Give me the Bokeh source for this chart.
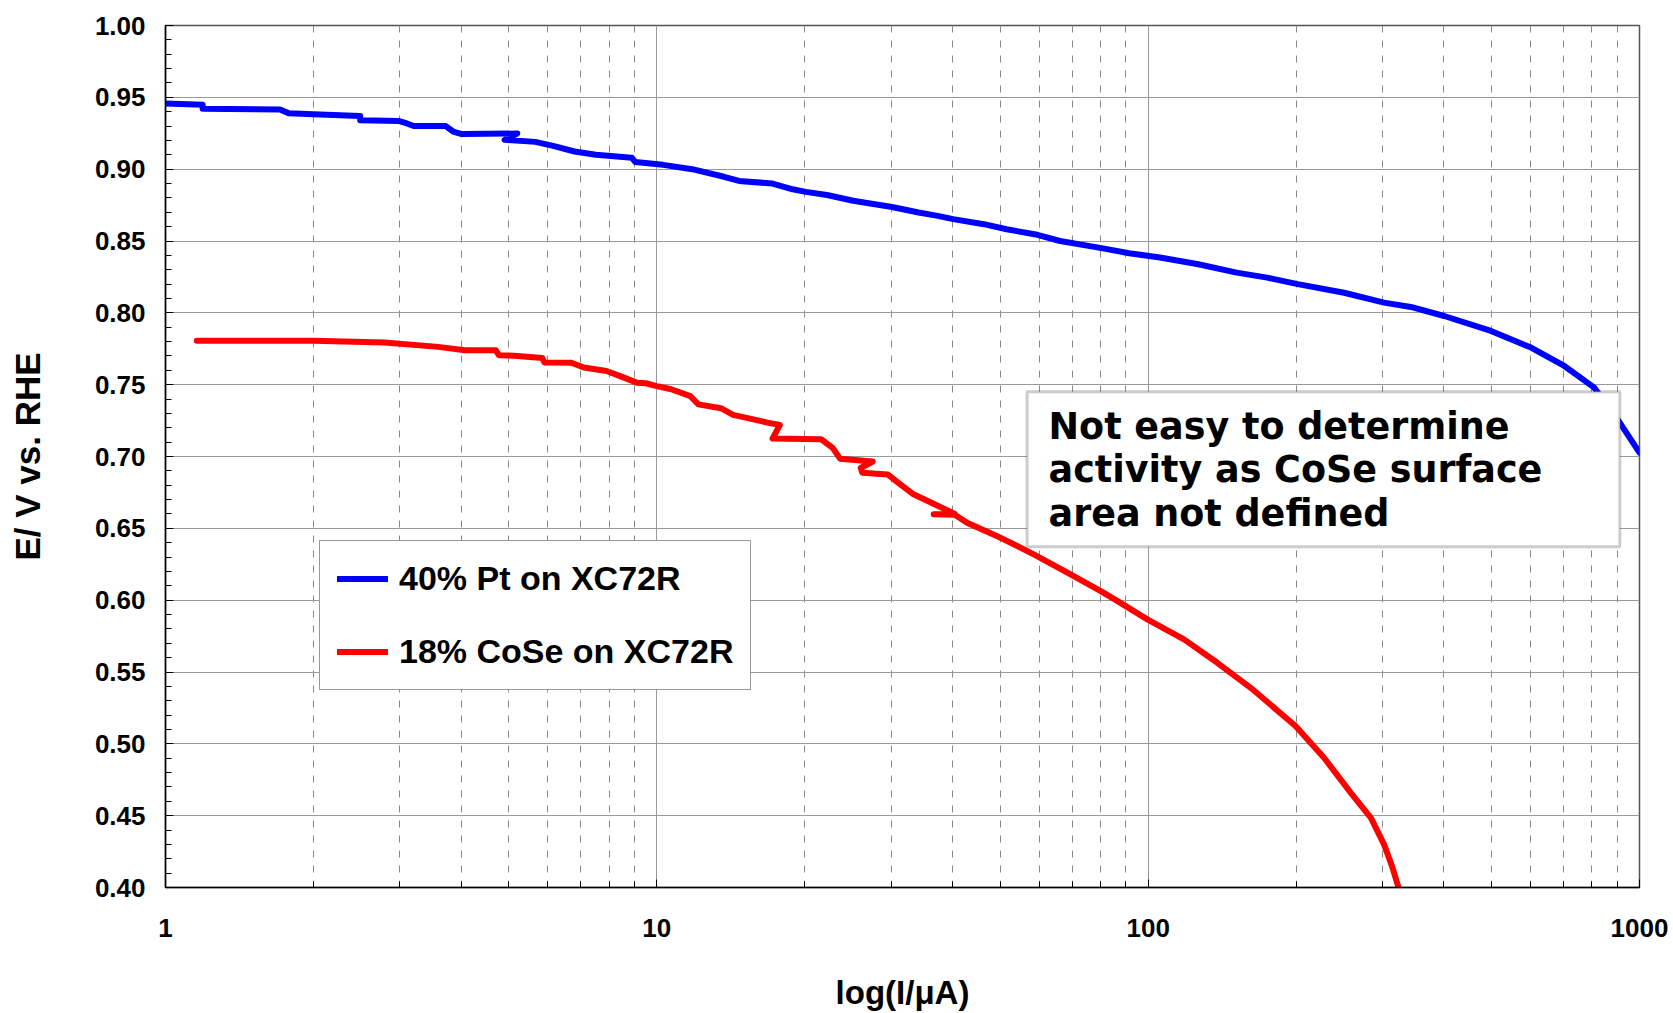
from bokeh.plotting import figure
from bokeh.models import (Range1d, FixedTicker, SingleIntervalTicker, NumeralTickFormatter,
                          Legend, LegendItem, BoxAnnotation, Label)
from bokeh.embed import file_html
from bokeh.resources import INLINE

# ---------------- data ----------------
pt_current = [1.0, 1.19, 1.19, 1.71, 1.78, 2.0, 2.49, 2.49, 2.99, 3.09, 3.2, 3.72, 3.85,
              4.01, 5.2, 4.9, 5.66, 6.15, 6.8, 7.52, 8.89, 9.04, 10.3, 11.8, 13.7, 14.7,
              17.2, 18.9, 20.1, 22.2, 25.1, 30.1, 34.1, 37.3, 40.1, 46.3, 51.5, 59.5, 66.2,
              79.3, 91.5, 105.7, 126.5, 151.4, 174.7, 201.6, 250.5, 302, 342.5, 400.5,
              498.5, 601.5, 703, 809, 902.5, 1000]
pt_potential = [0.9457, 0.9448, 0.9420, 0.9415, 0.9390, 0.9383, 0.9370, 0.9340, 0.9335,
                0.9320, 0.9300, 0.9300, 0.9262, 0.9244, 0.9248, 0.9204, 0.9190, 0.9162,
                0.9123, 0.9100, 0.9080, 0.9050, 0.9030, 0.9000, 0.8947, 0.8918, 0.8900,
                0.8860, 0.8842, 0.8820, 0.8780, 0.8737, 0.8698, 0.8675, 0.8652, 0.8617,
                0.8582, 0.8543, 0.8500, 0.8454, 0.8415, 0.8385, 0.8338, 0.8280, 0.8245,
                0.8200, 0.8140, 0.8071, 0.8041, 0.7978, 0.7874, 0.7758, 0.7630, 0.7479,
                0.7259, 0.7027]

cose_current = [1.158, 2.0, 2.79, 3.59, 4.07, 4.70, 4.77, 5.13, 5.85, 5.9, 6.7, 7.1, 7.9,
                8.5, 9.1, 9.5, 10.0, 10.7, 11.7, 12.15, 13.5, 14.3, 16.8, 17.8, 17.2, 21.6,
                22.8, 23.6, 27.5, 26.0, 26.2, 29.5, 31.3, 33.3, 38.5, 40.4, 36.6, 40.4,
                42.8, 50.1, 58.5, 68.5, 80.1, 86.5, 99.6, 118.3, 138.3, 161.7, 199.7, 228,
                258.5, 284, 302, 314.4, 323.2]
cose_potential = [0.7805, 0.7805, 0.7793, 0.7763, 0.7740, 0.7740, 0.7705, 0.7702, 0.7685,
                  0.7655, 0.7653, 0.7619, 0.7595, 0.7554, 0.7514, 0.7510, 0.7490, 0.7468,
                  0.7420, 0.7363, 0.7336, 0.7290, 0.7236, 0.7219, 0.7125, 0.7120, 0.7060,
                  0.6985, 0.6965, 0.6920, 0.6887, 0.6875, 0.6806, 0.6737, 0.6635, 0.6600,
                  0.6598, 0.6595, 0.6539, 0.6434, 0.6319, 0.6191, 0.6063, 0.5995, 0.5866,
                  0.5727, 0.5564, 0.5390, 0.5123, 0.4903, 0.4659, 0.4485, 0.4300, 0.4137,
                  0.4000]

series_names = ["40% Pt on XC72R", "18% CoSe on XC72R"]
x_major_ticks = [1, 10, 100, 1000]
x_tick_labels = ["1", "10", "100", "1000"]
x_minor_ticks = [2, 3, 4, 5, 6, 7, 8, 9, 20, 30, 40, 50, 60, 70, 80, 90,
                 200, 300, 400, 500, 600, 700, 800, 900]
y_tick_labels = ["0.40", "0.45", "0.50", "0.55", "0.60", "0.65", "0.70", "0.75",
                 "0.80", "0.85", "0.90", "0.95", "1.00"]
note_lines = ["Not easy to determine", "activity as CoSe surface", "area not defined"]
x_title = "log(I/\u03bcA)"
y_title = "E/ V vs. RHE"

# ---------------- figure ----------------
FONT = "Liberation Sans"
p = figure(width=1673, height=1013, x_axis_type="log",
           x_range=Range1d(1, 1000), y_range=Range1d(0.40, 1.00),
           output_backend="svg", toolbar_location=None,
           min_border_left=165, min_border_right=34, min_border_top=25, min_border_bottom=126)
p.background_fill_color = "white"
p.border_fill_color = "white"
p.outline_line_color = "#555555"
p.outline_line_width = 1.5

r_pt = p.line(pt_current, pt_potential, line_color="#0000ff", line_width=6,
              line_cap="round", line_join="round")
r_cose = p.line(cose_current, cose_potential, line_color="#ff0000", line_width=6,
                line_cap="round", line_join="round")

# axes
p.xaxis.ticker = FixedTicker(ticks=x_major_ticks, minor_ticks=x_minor_ticks)
p.xaxis.formatter = NumeralTickFormatter(format="0")
p.xaxis.major_label_overrides = {t: l for t, l in zip(x_major_ticks, x_tick_labels)}
p.yaxis.ticker = SingleIntervalTicker(interval=0.05, num_minor_ticks=5)
p.yaxis.formatter = NumeralTickFormatter(format="0.00")

for ax in (p.xaxis[0], p.yaxis[0]):
    ax.axis_line_color = "black"
    ax.axis_line_width = 1.5
    ax.major_tick_in = 8
    ax.major_tick_out = 0
    ax.minor_tick_in = 6
    ax.minor_tick_out = 0
    ax.major_tick_line_color = "black"
    ax.minor_tick_line_color = "black"
    ax.major_label_text_font = FONT
    ax.major_label_text_font_style = "bold"
    ax.major_label_text_font_size = "26px"
    ax.major_label_text_color = "black"
    ax.axis_label_text_font = FONT
    ax.axis_label_text_font_style = "bold"
    ax.axis_label_text_color = "black"

p.xaxis.axis_label = x_title
p.xaxis.axis_label_text_font_size = "33px"
p.xaxis.major_label_standoff = 31
p.xaxis.axis_label_standoff = 34
p.yaxis.axis_label = y_title
p.yaxis.axis_label_text_font_size = "35px"
p.yaxis.major_label_standoff = 20
p.yaxis.axis_label_standoff = 45

# grids
p.xgrid.grid_line_color = "#999999"
p.xgrid.grid_line_width = 1
p.xgrid.minor_grid_line_color = "#888888"
p.xgrid.minor_grid_line_dash = "7 8"
p.xgrid.minor_grid_line_width = 1
p.ygrid.grid_line_color = "#999999"
p.ygrid.grid_line_width = 1

# legend
legend = Legend(items=[LegendItem(label=series_names[0], renderers=[r_pt]),
                       LegendItem(label=series_names[1], renderers=[r_cose])],
                location=(154, 197), margin=0, padding=17, spacing=32,
                glyph_width=51, glyph_height=41, label_height=41, label_standoff=11,
                label_text_font=FONT, label_text_font_style="bold",
                label_text_font_size="34px", label_text_color="black",
                border_line_color="#333333", border_line_width=1.5,
                background_fill_color="white", background_fill_alpha=1.0)
p.add_layout(legend)

# note box
note_box = BoxAnnotation(left=56.7, right=912, top=0.7451, bottom=0.6372,
                         fill_color="white", fill_alpha=1.0,
                         line_color="#555555", line_width=3)
p.add_layout(note_box)
for line_text, yb in zip(note_lines, [0.7210, 0.6908, 0.6601]):
    p.add_layout(Label(x=62.7, y=yb, text=line_text, text_font="DejaVu Sans",
                       text_font_style="bold", text_font_size="36.5px",
                       text_color="black", text_baseline="alphabetic", text_align="left"))

open("out.html", "w").write(file_html(p, INLINE))
